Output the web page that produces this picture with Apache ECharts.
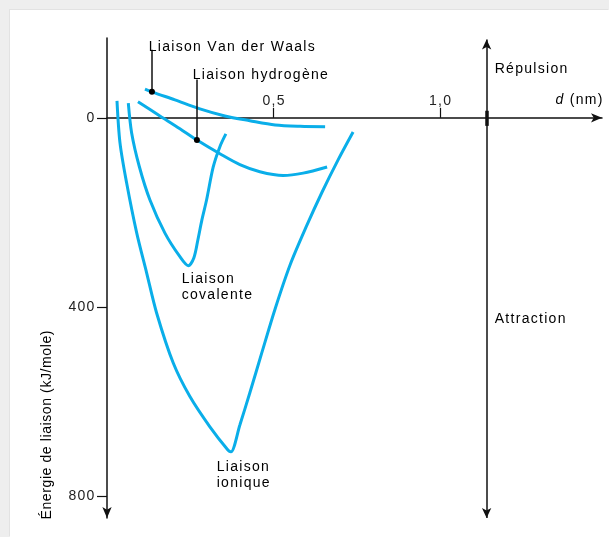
<!DOCTYPE html>
<html>
<head>
<meta charset="utf-8">
<script src="https://cdn.jsdelivr.net/npm/echarts@6/dist/echarts.min.js"></script>
<style>
  html, body { margin: 0; padding: 0; }
  #wrap { position: relative; width: 609px; height: 537px; background: #eeeeee; overflow: hidden; }
  #paper { position: absolute; left: 10px; top: 10px; right: 0; bottom: 0; background: #ffffff; box-shadow: -1px -1px 0 #e2e2e2; }
  #c { position: absolute; left: 0; top: 0; width: 609px; height: 537px; }
</style>
</head>
<body>
<div id="wrap"><div id="paper"></div><div id="c"></div></div>
<script>
// Interatomic distance d (nm) and bond energy (kJ/mole, positive = attraction, drawn downwards)
const vdwD = [0.114, 0.135, 0.204, 0.279, 0.354, 0.429, 0.505, 0.580, 0.655];
const vdwE = [-61, -55, -38, -19, -4, 6, 15, 18, 19];

const hydD = [0.093, 0.159, 0.219, 0.270, 0.339, 0.399, 0.459, 0.529, 0.589, 0.661];
const hydE = [-34, -4, 23, 47, 76, 99, 114, 122, 117, 104];

const covD = [0.064, 0.074, 0.097, 0.129, 0.174, 0.219, 0.244, 0.261, 0.273, 0.285, 0.299, 0.319, 0.339, 0.357];
const covE = [-31, 32, 103, 174, 244, 294, 313, 296, 258, 216, 174, 104, 61, 34];

const ionD = [0.030, 0.039, 0.059, 0.089, 0.119, 0.149, 0.199, 0.249, 0.309, 0.363, 0.372, 0.399, 0.429, 0.465, 0.505, 0.550, 0.598, 0.646, 0.694, 0.739];
const ionE = [-36, 53, 138, 243, 328, 413, 519, 590, 654, 703, 707, 650, 582, 497, 404, 311, 231, 157, 89, 30];

const energyTicks = [0, 400, 800];
const distanceTicks = [0.5, 1.0];
const boundaryD = 1.14;          // separation line between the two labelled regions

const FONT = '"Liberation Sans", Arial, sans-serif';
const INK = '#222222';
const CURVE = '#0aaee9';
const AXIS = '#111111';

// tracked (letter-spaced) text built from rich-text tokens
function spaced(s, key) {
  key = key || 't';
  return s.split('').map(function (ch) { return ch === '\n' ? '\n' : '{' + key + '|' + ch + '}'; }).join('');
}
const rich = {
  t: { fontFamily: FONT, fontSize: 14, color: INK, padding: [0, 0.65, 0, 0.65], lineHeight: 16 },
  ti: { fontFamily: FONT, fontSize: 14, color: INK, fontStyle: 'italic', padding: [0, 0.65, 0, 0.65], lineHeight: 16 },
  n: { fontFamily: FONT, fontSize: 14, color: INK, padding: [0, 0.3, 0, 0.3], lineHeight: 16 }
};

function zip(xs, ys) { return xs.map(function (x, i) { return [x, ys[i]]; }); }

function curve(name, xs, ys) {
  return {
    name: name, type: 'line', data: zip(xs, ys), smooth: 0.3, showSymbol: false,
    lineStyle: { color: CURVE, width: 3 }, silent: true, z: 3
  };
}

const chart = echarts.init(document.getElementById('c'), null, { renderer: 'canvas' });

function text(str, x, y, align, vAlign) {
  return {
    type: 'text', x: x, y: y, silent: true, z: 10,
    style: { text: str, rich: rich, align: align || 'left', verticalAlign: vAlign || 'middle' }
  };
}

chart.setOption({
  animation: false,
  backgroundColor: 'transparent',
  grid: { left: 107, top: 38, width: 495, height: 480, containLabel: false },
  xAxis: {
    type: 'value', min: 0, max: 1.4865, position: 'top',
    axisLine: { onZero: true, lineStyle: { color: AXIS, width: 1.5 }, symbol: ['none', 'arrow'], symbolSize: [7, 11] },
    axisTick: { show: true, inside: false, length: 10, customValues: distanceTicks, lineStyle: { color: AXIS, width: 1.2 } },
    axisLabel: { show: false },
    splitLine: { show: false }
  },
  yAxis: {
    type: 'value', min: -169, max: 847, inverse: true,
    axisLine: { show: true, lineStyle: { color: AXIS, width: 1.5 }, symbol: ['arrow', 'none'], symbolSize: [7, 11] },
    axisTick: { show: true, length: 10, customValues: energyTicks, lineStyle: { color: AXIS, width: 1.2 } },
    axisLabel: {
      show: true, margin: 12, customValues: energyTicks, rich: rich,
      formatter: function (v) { return spaced(String(v)); }
    },
    splitLine: { show: false }
  },
  series: [
    curve('Van der Waals', vdwD, vdwE),
    curve('Hydrogène', hydD, hydE),
    curve('Covalente', covD, covE),
    curve('Ionique', ionD, ionE),
    {
      // distance tick labels, sitting above the d axis
      name: 'graduations', type: 'scatter', silent: true, z: 5,
      data: distanceTicks.map(function (v) { return [v, 0]; }),
      symbolSize: 0, itemStyle: { opacity: 1 },
      label: {
        show: true, position: 'top', distance: 9, rich: rich,
        formatter: function (p) { return spaced(p.value[0].toFixed(1).replace('.', ',')); }
      }
    },
    {
      name: 'repères', type: 'scatter', silent: true, z: 5,
      data: [[vdwD[1], vdwE[1]], [hydD[3], hydE[3]]],
      symbol: 'circle', symbolSize: 6, itemStyle: { color: '#000', opacity: 1 },
      markLine: {
        silent: true, symbol: 'none', label: { show: false },
        lineStyle: { color: AXIS, width: 1.5, type: 'solid', opacity: 1 },
        data: [
          // leader lines from the bond names down to their curves
          [{ coord: [vdwD[1], vdwE[1]] }, { coord: [vdwD[1], -144] }],
          [{ coord: [hydD[3], hydE[3]] }, { coord: [hydD[3], -81] }],
          // répulsion / attraction separator with arrows at both ends
          [{ coord: [boundaryD, -166], symbol: 'arrow', symbolSize: [7, 10] },
           { coord: [boundaryD, 847], symbol: 'arrow', symbolSize: [7, 10] }],
          [{ coord: [boundaryD, -15], lineStyle: { width: 3.5 } }, { coord: [boundaryD, 17] }]
        ]
      }
    }
  ],
  graphic: [
    text(spaced('Liaison Van der Waals'), 148, 47),
    text(spaced('Liaison hydrogène'), 192, 75),
    text(spaced('Répulsion'), 494, 69),
    text('{ti|d}' + spaced(' (nm)'), 603, 100, 'right'),
    text(spaced('Attraction'), 494, 319),
    text(spaced('Liaison\ncovalente'), 181, 271, 'left', 'top'),
    text(spaced('Liaison\nionique'), 216, 459, 'left', 'top'),
    {
      type: 'text', x: 47, y: 425, rotation: Math.PI / 2, silent: true, z: 10,
      style: { text: spaced('Énergie de liaison (kJ/mole)', 'n'), rich: rich, align: 'center', verticalAlign: 'middle' }
    }
  ]
});
</script>
</body>
</html>
